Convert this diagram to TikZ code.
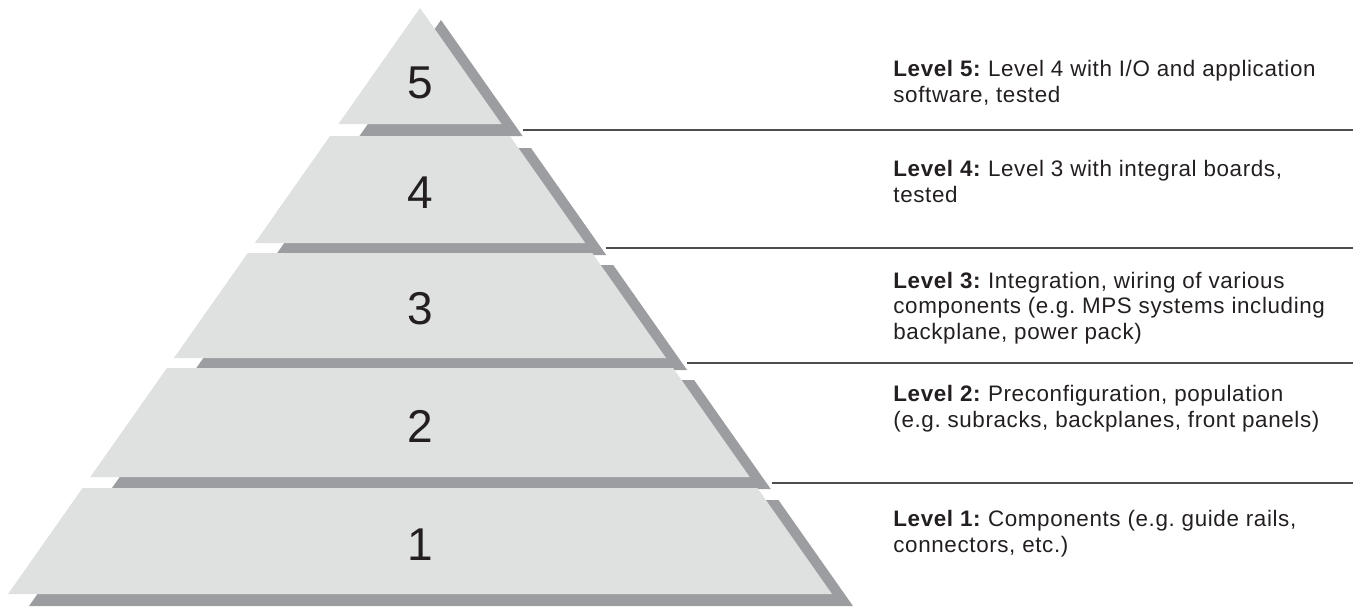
\documentclass[tikz,border=0pt]{standalone}
\usepackage{fontspec}
\setmainfont{Liberation Sans}
\newfontfamily\descfont{Liberation Sans}[LetterSpace=2.8]
\usepackage{xcolor}
\usepackage{tikz}
\usetikzlibrary{calc}
\frenchspacing
\definecolor{stone}{HTML}{DFE0E0}
\definecolor{shade}{HTML}{9C9DA0}
\definecolor{rule}{HTML}{4D4D4D}
\definecolor{ink}{HTML}{231F20}
\tikzset{
  block/.style={fill=stone, draw=none},
  shadowblock/.style={fill=shade, draw=none},
  sepline/.style={draw=rule, line width=0.75pt},
  num/.style={text=ink, font=\fontsize{23}{23}\selectfont, inner sep=0pt},
  desc/.style={text=ink, font=\descfont\fontsize{11.2}{12.75}\selectfont, align=left, anchor=base west, inner sep=0pt}
}

\begin{document}
\begin{tikzpicture}[x=0.5pt, y=-0.5pt]
  \useasboundingbox (0,0) rectangle (1353,606);

  % shadows first, then the levels on top
  \foreach \t/\b in {8/124, 136/243, 253/358, 368/477, 488/594}
    \path[shadowblock, shift={(21,12)}] ({420-0.703*(\t-8)},\t) -- ({420+0.703*(\t-8)},\t)
      -- ({420+0.703*(\b-8)},\b) -- ({420-0.703*(\b-8)},\b) -- cycle;
  \foreach \n/\t/\b/\d in {5/8/124/83, 4/136/243/193, 3/253/358/309, 2/368/477/426, 1/488/594/545} {
    \path[block] ({420-0.703*(\t-8)},\t) -- ({420+0.703*(\t-8)},\t)
      -- ({420+0.703*(\b-8)},\b) -- ({420-0.703*(\b-8)},\b) -- cycle;
    \node[num] (d\n) at (420,\d) {\n};
  }

  \foreach \y/\k in {130/a, 248/b, 363/c, 483/d} {
    \coordinate (l\k) at ({446+0.703*(\y-20)},\y);
    \coordinate (r\k) at (1353,\y);
    \draw[sepline] (l\k) -- (r\k);
  }

  % base anchor sits on the last line of each text
  \node[desc] (t5) at (893,102) {\textbf{Level 5:} Level 4 with I/O and application\\software, tested};
  \node[desc] (t4) at (893,202) {\textbf{Level 4:} Level 3 with integral boards,\\tested};
  \node[desc] (t3) at (893,339) {\textbf{Level 3:} Integration, wiring of various\\components (e.g. MPS systems including\\backplane, power pack)};
  \node[desc] (t2) at (893,427) {\textbf{Level 2:} Preconfiguration, population\\(e.g. subracks, backplanes, front panels)};
  \node[desc] (t1) at (893,552) {\textbf{Level 1:} Components (e.g. guide rails,\\connectors, etc.)};
\end{tikzpicture}
\end{document}
